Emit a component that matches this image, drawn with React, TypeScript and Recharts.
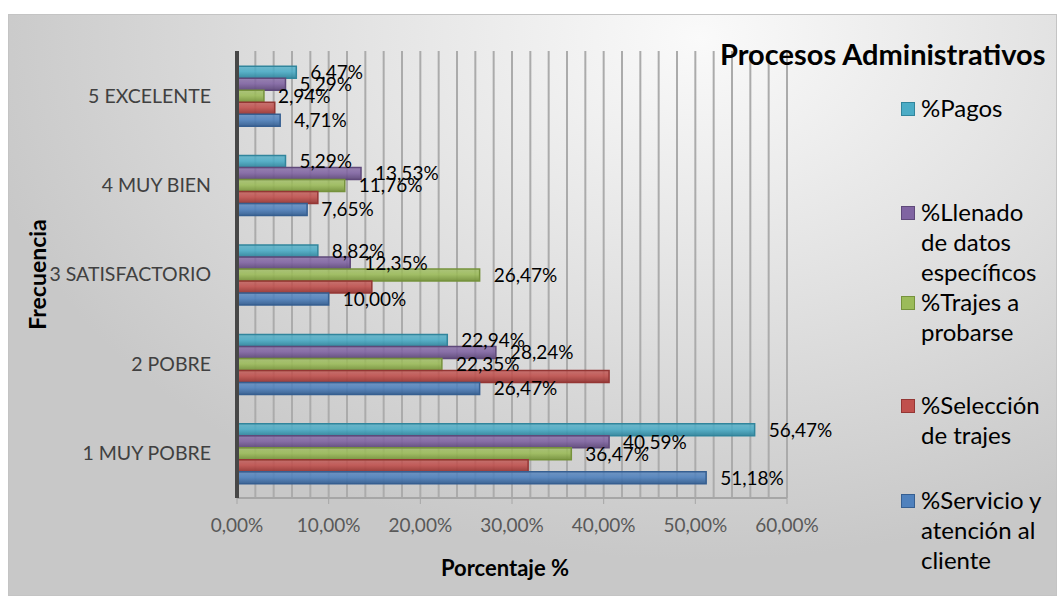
import React from 'react';
import { BarChart, Bar, XAxis, YAxis, CartesianGrid, LabelList } from 'recharts';

// categories, top to bottom as in the picture
const categories = ['5 EXCELENTE', '4 MUY BIEN', '3 SATISFACTORIO', '2 POBRE', '1 MUY POBRE'];

// percentages per category (same order as categories)
const pagos = [6.47, 5.29, 8.82, 22.94, 56.47];
const llenado = [5.29, 13.53, 12.35, 28.24, 40.59];
const trajes = [2.94, 11.76, 26.47, 22.35, 36.47];
const seleccion = [4.12, 8.82, 14.71, 40.59, 31.76];
const servicio = [4.71, 7.65, 10.0, 26.47, 51.18];

const xTicks = [0, 10, 20, 30, 40, 50, 60];
const gridTicks = [0, 2, 4, 6, 8, 10, 12, 14, 16, 18, 20, 22, 24, 26, 28, 30, 32, 34, 36, 38, 40, 42, 44, 46, 48, 50, 52, 54, 56, 58, 60];
const xMax = 60;

// series, drawn top to bottom inside each category
const series = [
  { key: 'pagos', name: '%Pagos', lines: ['%Pagos'], fill: '#4BACC6', edge: '#31859C', showLabel: true },
  { key: 'llenado', name: '%Llenado de datos específicos', lines: ['%Llenado', 'de datos', 'específicos'], fill: '#8064A2', edge: '#5F497A', showLabel: true },
  { key: 'trajes', name: '%Trajes a probarse', lines: ['%Trajes a', 'probarse'], fill: '#9BBB59', edge: '#76923C', showLabel: true },
  { key: 'seleccion', name: '%Selección de trajes', lines: ['%Selección', 'de trajes'], fill: '#C0504D', edge: '#943634', showLabel: false },
  { key: 'servicio', name: '%Servicio y atención al cliente', lines: ['%Servicio y', 'atención al', 'cliente'], fill: '#4F81BD', edge: '#365F91', showLabel: true },
];

const data = categories.map((cat, i) => ({
  cat,
  pagos: pagos[i],
  llenado: llenado[i],
  trajes: trajes[i],
  seleccion: seleccion[i],
  servicio: servicio[i],
}));

const pct = (v: any) => Number(v).toFixed(2).replace('.', ',') + '%';

const FONT = 'Lato, "Open Sans", sans-serif';

// legend slot tops (first line), in px inside the frame
const legendTops = [78, 182, 272, 375, 470];

export default function App() {
  return (
    <div style={{ position: 'absolute', left: 0, top: 0, width: 1057, height: 596, background: '#fff', fontFamily: FONT }}>
      <div
        style={{
          position: 'absolute',
          left: 8,
          top: 14,
          width: 1047,
          height: 580,
          border: '1px solid #c4c4c4',
          overflow: 'hidden',
          background: 'radial-gradient(ellipse 70% 90% at 66% 4%, #fafafa 0%, #e4e4e4 45%, #c8c8c8 100%)',
        }}
      >
        <BarChart
          width={1047}
          height={580}
          data={data}
          layout="vertical"
          margin={{ top: 36, right: 269, left: 0, bottom: 0 }}
          barCategoryGap="17%"
          barGap={0}
        >
          <defs>
            {series.map((s) => (
              <linearGradient key={s.key} id={'g-' + s.key} x1="0" y1="0" x2="0" y2="1">
                <stop offset="0%" stopColor={s.fill} stopOpacity={0.75} />
                <stop offset="45%" stopColor={s.fill} stopOpacity={0.9} />
                <stop offset="100%" stopColor={s.edge} stopOpacity={0.95} />
              </linearGradient>
            ))}
          </defs>
          <CartesianGrid
            horizontal={false}
            vertical
            stroke="#ababab"
            strokeWidth={2}
            verticalCoordinatesGenerator={({ offset }: any) =>
              gridTicks.map((t) => offset.left + (t / xMax) * offset.width)
            }
          />
          <XAxis
            type="number"
            domain={[0, xMax]}
            ticks={xTicks}
            tickFormatter={pct}
            height={97}
            axisLine={{ stroke: '#a6a6a6', strokeWidth: 2 }}
            tickLine={{ stroke: '#a6a6a6' }}
            tickSize={6}
            tickMargin={15}
            tick={{ fill: '#595959', fontSize: 19, fontFamily: FONT }}
            label={{ value: 'Porcentaje %', position: 'insideBottom', offset: 19, dx: -7, fill: '#000', fontSize: 22, fontWeight: 700, fontFamily: FONT }}
          />
          <YAxis
            type="category"
            dataKey="cat"
            width={228}
            axisLine={{ stroke: '#474747', strokeWidth: 4 }}
            tickLine={false}
            tickSize={0}
            tickMargin={26}
            tick={{ fill: '#404040', fontSize: 19.5, fontFamily: FONT }}
            label={{ value: 'Frecuencia', angle: -90, position: 'insideLeft', offset: 29, fill: '#000', fontSize: 23, fontWeight: 700, fontFamily: FONT, style: { textAnchor: 'middle' } }}
          />
          {series.map((s) => (
            <Bar
              key={s.key}
              dataKey={s.key}
              name={s.name}
              fill={'url(#g-' + s.key + ')'}
              stroke={s.edge}
              strokeWidth={1.5}
              isAnimationActive={false}
            >
              {s.showLabel && (
                <LabelList dataKey={s.key} position="right" offset={14} formatter={pct} fill="#000" fontSize={19} fontFamily={FONT} />
              )}
            </Bar>
          ))}
        </BarChart>

        <div style={{ position: 'absolute', left: 711, top: 21, fontSize: 29, fontWeight: 700, color: '#000', whiteSpace: 'nowrap' }}>
          Procesos Administrativos
        </div>

        {series.map((s, i) => (
          <div key={s.key} style={{ position: 'absolute', left: 892, top: legendTops[i], display: 'flex', alignItems: 'flex-start' }}>
            <div
              style={{
                width: 12,
                height: 12,
                marginTop: 9,
                marginRight: 6,
                background: s.fill,
                border: '1.5px solid ' + s.edge,
              }}
            />
            <div style={{ fontSize: 24, lineHeight: '30px', color: '#000' }}>
              {s.lines.map((l) => (
                <div key={l}>{l}</div>
              ))}
            </div>
          </div>
        ))}
      </div>
    </div>
  );
}
